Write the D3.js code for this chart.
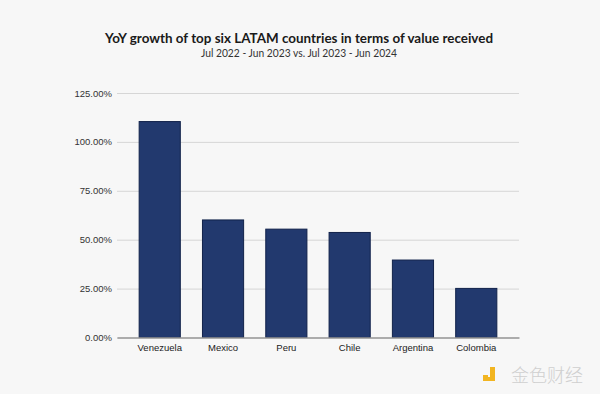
<!DOCTYPE html>
<html>
<head>
<meta charset="utf-8">
<script src="https://cdn.jsdelivr.net/npm/d3@7"></script>
<style>
  body { margin: 0; background: #f7f7f7; }
  svg { display: block; }
</style>
</head>
<body>
<div id="chart"></div>
<script>
// Data
var countries = ["Venezuela", "Mexico", "Peru", "Chile", "Argentina", "Colombia"];
var growth = [110.4, 60.1, 55.4, 53.7, 39.6, 25.1];
var yTicks = [0, 25, 50, 75, 100, 125];

var title = "YoY growth of top six LATAM countries in terms of value received";
var subtitle = "Jul 2022 - Jun 2023 vs. Jul 2023 - Jun 2024";

// Chart setup
var svgWidth = 600;
var svgHeight = 394;

var margin = { top: 93, right: 81, bottom: 56.5, left: 117 };
var width = svgWidth - margin.left - margin.right;
var height = svgHeight - margin.top - margin.bottom;

var svg = d3.select("#chart").append("svg")
  .attr("width", svgWidth)
  .attr("height", svgHeight);

svg.append("rect")
  .attr("width", svgWidth)
  .attr("height", svgHeight)
  .attr("fill", "#f7f7f7");

// Titles
svg.append("text")
  .attr("x", 299)
  .attr("y", 43)
  .attr("text-anchor", "middle")
  .attr("font-family", "Lato, sans-serif")
  .attr("font-weight", "bold")
  .attr("font-size", "13.6px")
  .attr("textLength", 388)
  .attr("lengthAdjust", "spacingAndGlyphs")
  .attr("fill", "#1a1a1a")
  .text(title);

svg.append("text")
  .attr("x", 299)
  .attr("y", 57)
  .attr("text-anchor", "middle")
  .attr("font-family", "Lato, sans-serif")
  .attr("font-size", "10.5px")
  .attr("textLength", 196)
  .attr("lengthAdjust", "spacingAndGlyphs")
  .attr("fill", "#333")
  .text(subtitle);

var chartGroup = svg.append("g")
  .attr("transform", `translate(${margin.left}, ${margin.top})`);

// Scales
var xBandScale = d3.scaleBand()
  .domain(countries)
  .range([0, width])
  .paddingInner(0.35)
  .paddingOuter(0.35);

var yLinearScale = d3.scaleLinear()
  .domain([0, 125])
  .range([height, 0]);

// Gridlines + y labels
var leftAxis = d3.axisLeft(yLinearScale)
  .tickValues(yTicks)
  .tickSize(-width)
  .tickPadding(5)
  .tickFormat(d => d.toFixed(2) + "%");

var yAxisGroup = chartGroup.append("g").call(leftAxis);
yAxisGroup.select(".domain").remove();
yAxisGroup.selectAll(".tick line")
  .attr("stroke", "#d6d6d6")
  .attr("stroke-width", 1);
yAxisGroup.selectAll(".tick text")
  .attr("font-family", "Liberation Sans, Arial, sans-serif")
  .attr("font-size", "9.5px")
  .attr("fill", "#333");

// Bars
var data = countries.map((c, i) => ({ country: c, value: growth[i] }));

chartGroup.selectAll("rect.bar")
  .data(data)
  .enter()
  .append("rect")
  .attr("class", "bar")
  .attr("x", d => xBandScale(d.country))
  .attr("y", d => yLinearScale(d.value))
  .attr("width", xBandScale.bandwidth())
  .attr("height", d => height - yLinearScale(d.value))
  .attr("fill", "#22396e")
  .attr("stroke", "#11224a")
  .attr("stroke-width", 1);

// Baseline + x labels
var bottomAxis = d3.axisBottom(xBandScale)
  .tickSize(0)
  .tickPadding(7);

var xAxisGroup = chartGroup.append("g")
  .attr("transform", `translate(0, ${height})`)
  .call(bottomAxis);
xAxisGroup.select(".domain")
  .attr("stroke", "#999")
  .attr("stroke-width", 1.5);
xAxisGroup.selectAll(".tick text")
  .attr("font-family", "Liberation Sans, Arial, sans-serif")
  .attr("font-size", "9.5px")
  .attr("fill", "#222");

// Watermark
var wm = svg.append("g").attr("transform", "translate(483, 367)");
wm.append("rect").attr("x", 0).attr("y", 8).attr("width", 5).attr("height", 6).attr("fill", "#f2b521");
wm.append("rect").attr("x", 7).attr("y", 0).attr("width", 5).attr("height", 14).attr("fill", "#f2b521");
wm.append("rect").attr("x", 2).attr("y", 10).attr("width", 10).attr("height", 4).attr("fill", "#f2b521");
wm.append("text")
  .attr("x", 28)
  .attr("y", 15)
  .attr("font-family", "Noto Sans CJK SC, sans-serif")
  .attr("font-weight", "300")
  .attr("font-size", "18px")
  .attr("fill", "#cfcfcf")
  .text("金色财经");
</script>
</body>
</html>
